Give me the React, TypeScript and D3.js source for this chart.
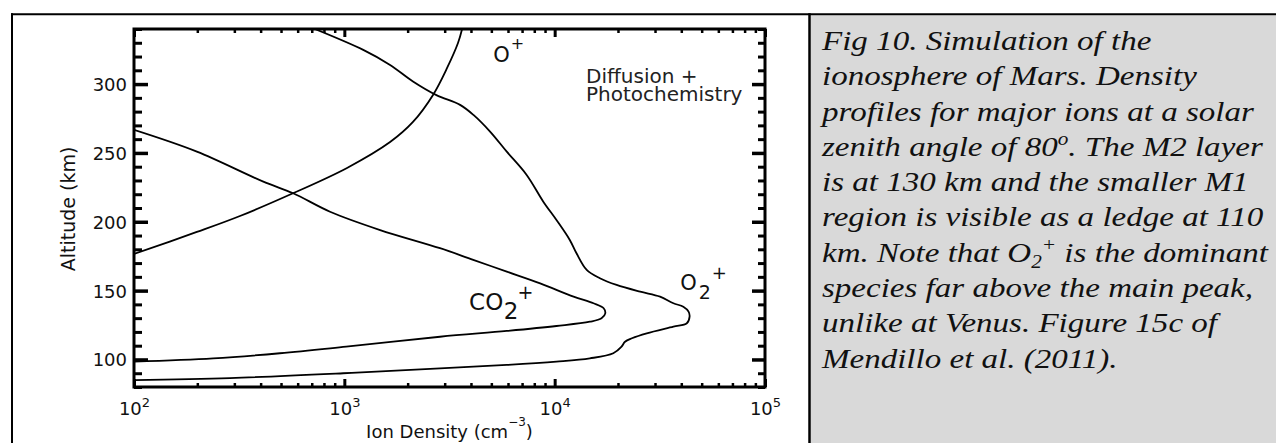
import * as d3 from "d3";
import { useEffect, useRef } from "react";

// axis ranges
const X_DOMAIN: [number, number] = [1e2, 1e5];
const Y_DOMAIN: [number, number] = [80, 340];
const X_LABEL_EXPONENTS = [2, 3, 4, 5];
const Y_MAJOR = [100, 150, 200, 250, 300];

// O+ profile: density (cm^-3) / altitude (km)
const O_PLUS_DENSITY = [100, 199, 319, 570, 1030, 1650, 2120, 2640, 3080, 3470, 3630];
const O_PLUS_ALT = [176.6, 192.6, 204.2, 220.7, 239.1, 257.9, 272.5, 292.1, 311.7, 329.8, 340];

// O2+ profile
const O2_PLUS_DENSITY = [
  724, 1230, 1650, 2120, 2740, 3550, 4110, 4930, 5920, 7360, 8830, 10200, 11800, 12700,
  14200, 16400, 19700, 25500, 31700, 36700, 40900, 43300, 43800, 42500, 36700, 27400,
  23300, 21600, 20800, 19000, 14700, 10200, 5920, 2850, 989, 286, 100,
];
const O2_PLUS_ALT = [
  340, 324.8, 313.9, 301.9, 292, 284.9, 277.6, 265.5, 250.9, 234, 214.6, 201.3, 186.8, 177.1,
  165, 159, 154.1, 149.2, 145.6, 140.8, 138.3, 134.7, 131.1, 126.3, 123.8, 119,
  115.4, 112.9, 109.3, 104.5, 100.8, 98.4, 96, 93.6, 90, 86.5, 85,
];

// CO2+ profile
const CO2_PLUS_DENSITY = [
  100, 199, 412, 571, 855, 1480, 2850, 4100, 5920, 8530, 12300, 15300, 17100, 17400,
  16700, 14700, 10200, 5920, 2850, 1020, 494, 238, 100,
];
const CO2_PLUS_ALT = [
  266.7, 250.9, 229.1, 220.7, 207.3, 194, 180.8, 172.3, 163.8, 155.3, 145.6, 140.8, 137.2, 133.5,
  129.9, 127.4, 124.3, 120.7, 116.5, 109.3, 104.5, 100.8, 98.4,
];

type Seg = [string, "" | "sub" | "sup"];

const CAPTION_LINES: Seg[][] = [
  [["Fig 10. Simulation of the", ""]],
  [["ionosphere of Mars. Density", ""]],
  [["profiles for major ions at a solar", ""]],
  [["zenith angle of 80", ""], ["o", "sup"], [". The M2 layer", ""]],
  [["is at 130 km and the smaller M1", ""]],
  [["region is visible as a ledge at 110", ""]],
  [["km. Note that O", ""], ["2", "sub"], ["+", "sup"], [" is the dominant", ""]],
  [["species far above the main peak,", ""]],
  [["unlike at Venus. Figure 15c of", ""]],
  [["Mendillo et al. (2011).", ""]],
];

const SANS = "'DejaVu Sans', sans-serif";
const SERIF = "'Liberation Serif', 'Times New Roman', serif";

export default function App() {
  const ref = useRef<SVGSVGElement | null>(null);

  useEffect(() => {
    const el = ref.current;
    if (!el) return;
    const svg = d3.select(el);
    svg.selectAll("*").remove();

    const W = 1276;
    const H = 443;
    const plot = { left: 134, right: 765, top: 29, bottom: 387 };

    const x = d3.scaleLog().domain(X_DOMAIN).range([plot.left, plot.right]);
    const y = d3.scaleLinear().domain(Y_DOMAIN).range([plot.bottom, plot.top]);

    svg.attr("width", W).attr("height", H).attr("viewBox", `0 0 ${W} ${H}`);

    // table-like frame with caption cell
    svg.append("rect").attr("width", W).attr("height", H).attr("fill", "#fff");
    svg
      .append("rect")
      .attr("x", 810.5)
      .attr("y", 15.3)
      .attr("width", W - 810.5)
      .attr("height", H - 15.3)
      .attr("fill", "#d9d9d9");
    svg.append("line").attr("x1", 11).attr("x2", W).attr("y1", 14.3).attr("y2", 14.3)
      .attr("stroke", "#000").attr("stroke-width", 2);
    svg.append("line").attr("x1", 12).attr("x2", 12).attr("y1", 13.3).attr("y2", H)
      .attr("stroke", "#000").attr("stroke-width", 2);
    svg.append("line").attr("x1", 809.5).attr("x2", 809.5).attr("y1", 13.3).attr("y2", H)
      .attr("stroke", "#000").attr("stroke-width", 2.5);

    svg
      .append("defs")
      .append("clipPath")
      .attr("id", "plot-clip")
      .append("rect")
      .attr("x", plot.left)
      .attr("y", plot.top)
      .attr("width", plot.right - plot.left)
      .attr("height", plot.bottom - plot.top);

    const line = d3
      .line<[number, number]>()
      .x((d) => x(d[0]))
      .y((d) => y(d[1]))
      .curve(d3.curveCatmullRom.alpha(0.5));

    const series: [number[], number[]][] = [
      [O_PLUS_DENSITY, O_PLUS_ALT],
      [O2_PLUS_DENSITY, O2_PLUS_ALT],
      [CO2_PLUS_DENSITY, CO2_PLUS_ALT],
    ];
    const curves = svg.append("g").attr("clip-path", "url(#plot-clip)");
    series.forEach(([n, a]) => {
      curves
        .append("path")
        .attr("d", line(d3.zip(n, a) as [number, number][]))
        .attr("fill", "none")
        .attr("stroke", "#000")
        .attr("stroke-width", 1.8)
        .attr("stroke-linejoin", "round");
    });

    // ticks
    const isDecade = (v: number) => Math.abs(Math.log10(v) - Math.round(Math.log10(v))) < 1e-9;
    const xMinor = x.ticks().filter((v) => !isDecade(v));
    const xMajor = X_LABEL_EXPONENTS.map((e) => Math.pow(10, e));
    const yAll = d3.range(Y_DOMAIN[0], Y_DOMAIN[1] + 1, 10);
    const yMinor = yAll.filter((v) => v % 50 !== 0);

    const styleTicks = (g: d3.Selection<SVGGElement, unknown, null, undefined>, w: number) =>
      g
        .call((ga) => ga.select(".domain").remove())
        .call((ga) => ga.selectAll(".tick line").attr("stroke-width", w))
        .attr("font-family", SANS)
        .attr("font-size", 18);

    // bottom
    svg.append("g").attr("transform", `translate(0,${plot.bottom})`)
      .call(d3.axisBottom(x).tickValues(xMinor).tickSize(-4).tickFormat(() => ""))
      .call((g) => styleTicks(g, 2.5));
    const bottomMajor = svg.append("g").attr("transform", `translate(0,${plot.bottom})`)
      .call(d3.axisBottom(x).tickValues(xMajor).tickSize(-8).tickFormat(() => ""))
      .call((g) => styleTicks(g, 3));
    bottomMajor.selectAll<SVGTextElement, number>(".tick text").each(function (d) {
      const t = d3.select(this).attr("y", 28).attr("dy", null).attr("fill", "#111");
      t.append("tspan").text("10");
      t.append("tspan").attr("font-size", 13).attr("dy", -8.3).text(String(Math.round(Math.log10(d))));
    });

    // top
    svg.append("g").attr("transform", `translate(0,${plot.top})`)
      .call(d3.axisTop(x).tickValues(xMinor).tickSize(-4).tickFormat(() => ""))
      .call((g) => styleTicks(g, 2.5));
    svg.append("g").attr("transform", `translate(0,${plot.top})`)
      .call(d3.axisTop(x).tickValues(xMajor).tickSize(-8).tickFormat(() => ""))
      .call((g) => styleTicks(g, 3));

    // left
    svg.append("g").attr("transform", `translate(${plot.left},0)`)
      .call(d3.axisLeft(y).tickValues(yMinor).tickSize(-8).tickFormat(() => ""))
      .call((g) => styleTicks(g, 3));
    svg.append("g").attr("transform", `translate(${plot.left},0)`)
      .call(d3.axisLeft(y).tickValues(Y_MAJOR).tickSize(-14).tickPadding(7).tickFormat(d3.format("d")))
      .call((g) => styleTicks(g, 3.5))
      .call((g) => g.selectAll(".tick text").attr("dy", "0.36em").attr("fill", "#111"));

    // right
    svg.append("g").attr("transform", `translate(${plot.right},0)`)
      .call(d3.axisRight(y).tickValues(yMinor).tickSize(-7).tickFormat(() => ""))
      .call((g) => styleTicks(g, 3));
    svg.append("g").attr("transform", `translate(${plot.right},0)`)
      .call(d3.axisRight(y).tickValues(Y_MAJOR).tickSize(-13).tickFormat(() => ""))
      .call((g) => styleTicks(g, 3.5));

    // frame
    svg
      .append("rect")
      .attr("x", plot.left)
      .attr("y", plot.top)
      .attr("width", plot.right - plot.left)
      .attr("height", plot.bottom - plot.top)
      .attr("fill", "none")
      .attr("stroke", "#000")
      .attr("stroke-width", 3);

    // axis titles
    svg
      .append("text")
      .attr("transform", `translate(75,${(plot.top + plot.bottom) / 2 + 1}) rotate(-90)`)
      .attr("text-anchor", "middle")
      .attr("font-family", SANS)
      .attr("font-size", 19)
      .attr("fill", "#111")
      .text("Altitude (km)");

    const xt = svg
      .append("text")
      .attr("x", (plot.left + plot.right) / 2)
      .attr("y", 438)
      .attr("text-anchor", "middle")
      .attr("font-family", SANS)
      .attr("font-size", 18)
      .attr("fill", "#111");
    xt.append("tspan").text("Ion Density (cm");
    xt.append("tspan").attr("font-size", 12).attr("dy", -12).text("\u22123");
    xt.append("tspan").attr("dy", 12).text(")");

    // curve labels: [density, altitude, parts [text, dy, size, dx]]
    type Part = [string, number, number, number];
    const labels: [number, number, Part[]][] = [
      [5100, 316, [["O", 0, 21, 0], ["+", -13, 16, 1]]],
      [3920, 135.6, [["CO", 0, 23, 0], ["2", 8.2, 23, 0.5], ["+", -19.9, 19, -1]]],
      [39500, 150.2, [["O", 0, 21, 0], ["2", 8.4, 19, 2], ["+", -19.3, 18, 1]]],
    ];
    labels.forEach(([n, a, parts]) => {
      const t = svg
        .append("text")
        .attr("x", x(n))
        .attr("y", y(a))
        .attr("font-family", SANS)
        .attr("fill", "#111");
      parts.forEach(([s, dy, size, dx]) => {
        t.append("tspan").attr("dy", dy).attr("dx", dx).attr("font-size", size).text(s);
      });
    });

    const note = svg
      .append("text")
      .attr("font-family", SANS)
      .attr("font-size", 20)
      .attr("fill", "#222");
    note.append("tspan").attr("x", x(14100)).attr("y", y(300.8)).text("Diffusion +");
    note.append("tspan").attr("x", x(14100)).attr("y", y(287.7)).text("Photochemistry");

    // caption (source image is stretched horizontally)
    const cap = svg
      .append("g")
      .attr("transform", "translate(822,0) scale(1.18,1)")
      .attr("font-family", SERIF)
      .attr("font-style", "italic")
      .attr("font-size", 28)
      .attr("fill", "#111");
    CAPTION_LINES.forEach((segs, i) => {
      const t = cap.append("text").attr("x", 0).attr("y", 50 + i * 35.3);
      let off = 0;
      segs.forEach(([s, kind]) => {
        const target = kind === "sup" ? -11 : kind === "sub" ? 6 : 0;
        const span = t.append("tspan").attr("dy", target - off).text(s);
        if (kind) span.attr("font-size", 18);
        off = target;
      });
    });
  }, []);

  return (
    <svg
      ref={ref}
      style={{ position: "absolute", left: 0, top: 0, display: "block" }}
    />
  );
}
